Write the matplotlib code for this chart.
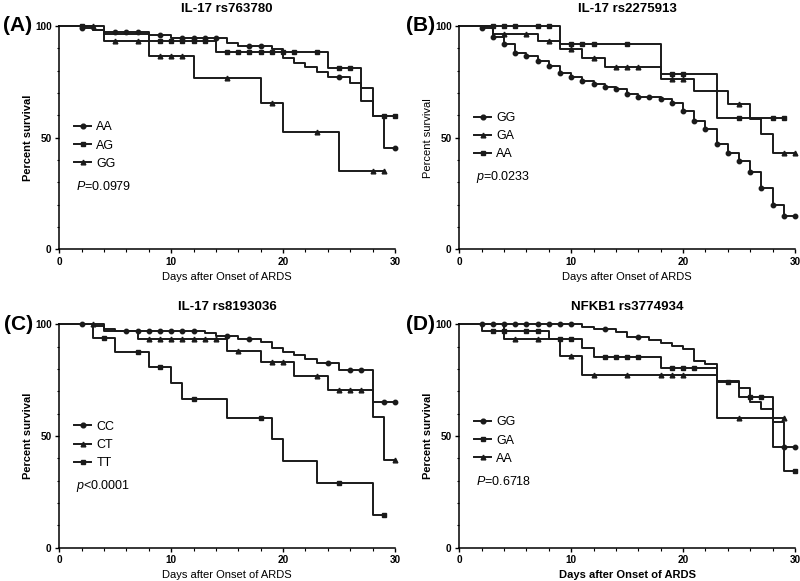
import numpy as np
import matplotlib
matplotlib.use('Agg')
import matplotlib.pyplot as plt
from matplotlib.ticker import MultipleLocator
from matplotlib.lines import Line2D

plt.rcParams['font.family'] = ['Liberation Sans', 'DejaVu Sans']
plt.rcParams['mathtext.fontset'] = 'custom'
plt.rcParams['mathtext.it'] = 'Liberation Sans:italic'
plt.rcParams['mathtext.rm'] = 'Liberation Sans'

# ---- (A) IL-17 rs763780 ----
a_aa_t = [0, 2, 3, 4, 8, 10, 15, 16, 19, 20, 21, 22, 23, 24, 26, 27, 28, 29]
a_aa_s = [100, 99, 98, 97.2, 96, 94.8, 92.2, 91, 89.5, 85.5, 83.6, 81.8, 79.6, 77.3, 74.3, 66.4, 59.8, 45.2]
a_aa_c = [2, 5, 6, 7, 9, 11, 12, 13, 14, 17, 18, 25, 30]
a_ag_t = [0, 3, 4, 8, 14, 24, 27, 28]
a_ag_s = [100, 98, 96.6, 93.3, 88.4, 81, 72.1, 59.8]
a_ag_c = [2, 9, 10, 11, 12, 13, 15, 16, 17, 18, 19, 20, 21, 23, 25, 26, 29, 30]
a_gg_t = [0, 4, 8, 12, 18, 20, 25]
a_gg_s = [100, 93.3, 86.5, 76.8, 65.6, 52.5, 35]
a_gg_c = [3, 5, 7, 9, 10, 11, 15, 19, 23, 28, 29]

# ---- (B) IL-17 rs2275913 ----
b_gg_t = [0, 2, 3, 4, 5, 6, 7, 8, 9, 10, 11, 12, 13, 14, 15, 16, 18, 19, 20,
          21, 22, 23, 24, 25, 26, 27, 28, 29]
b_gg_s = [100, 99, 95, 91.8, 88, 86.6, 84.2, 82, 78.8, 77, 75.5, 73.9, 72.8, 71.9,
          69.5, 68.3, 67.3, 65.4, 62.1, 57.5, 53.9, 47.2, 43, 39.7, 34.8, 27.3, 19.8, 14.9]
b_gg_c = [2, 3, 4, 5, 6, 7, 8, 9, 10, 11, 12, 13, 14, 15, 16, 17, 18, 19, 20,
          21, 22, 23, 24, 25, 26, 27, 28, 29, 30]
b_ga_t = [0, 3, 7, 9, 11, 13, 18, 21, 24, 26, 27, 28]
b_ga_s = [100, 96.4, 93.3, 89.6, 85.5, 81.8, 76.3, 70.9, 65, 58.5, 51.8, 43.2]
b_ga_c = [4, 6, 8, 10, 12, 14, 15, 16, 19, 20, 25, 29, 30]
b_aa_t = [0, 9, 18, 23]
b_aa_s = [100, 92, 78.5, 58.7]
b_aa_c = [3, 4, 5, 7, 8, 10, 11, 12, 15, 19, 20, 25, 28, 29]

# ---- (C) IL-17 rs8193036 ----
c_cc_t = [0, 3, 4, 5, 13, 14, 16, 18, 19, 20, 21, 22, 23, 25, 28]
c_cc_s = [100, 99.3, 97.8, 97, 96, 94.9, 93.5, 92.3, 89.3, 87.8, 86.3, 84.5, 82.6, 79.6, 65.1]
c_cc_c = [2, 6, 7, 8, 9, 10, 11, 12, 15, 17, 24, 26, 27, 29, 30]
c_ct_t = [0, 4, 7, 15, 18, 21, 24, 28, 29]
c_ct_s = [100, 97, 93.3, 88.2, 83, 77, 70.6, 58.7, 39.3]
c_ct_c = [3, 8, 9, 10, 11, 12, 13, 14, 16, 19, 20, 23, 25, 26, 27, 30]
c_tt_t = [0, 3, 5, 8, 10, 11, 15, 19, 20, 23, 28]
c_tt_s = [100, 93.8, 87.8, 81, 73.9, 66.4, 58.2, 48.5, 38.8, 29.1, 14.6]
c_tt_c = [4, 7, 9, 12, 18, 25, 29]

# ---- (D) NFKB1 rs3774934 ----
d_gg_t = [0, 11, 12, 14, 15, 17, 18, 19, 20, 21, 22, 23, 25, 26, 27, 28]
d_gg_s = [100, 98.7, 97.8, 96.4, 94.2, 93, 91.5, 90.3, 88.8, 83.7, 82.1, 74.5, 71.4, 65.3, 61.9, 45.2]
d_gg_c = [2, 3, 4, 5, 6, 7, 8, 9, 10, 13, 16, 29, 30]
d_ga_t = [0, 2, 8, 11, 12, 18, 23, 25, 28, 29]
d_ga_s = [100, 97, 93.3, 89.4, 85.5, 80.3, 74.3, 67.5, 56.4, 34.5]
d_ga_c = [3, 4, 6, 7, 9, 10, 13, 14, 15, 16, 19, 20, 21, 24, 26, 27, 30]
d_aa_t = [0, 4, 9, 11, 23]
d_aa_s = [100, 93.5, 85.6, 77.2, 57.9]
d_aa_c = [5, 7, 10, 12, 15, 18, 19, 20, 25, 29]

INK = '#1a1a1a'


def km(ax, t, s, cens, marker, ms):
    t = np.asarray(t, float)
    s = np.asarray(s, float)
    end = max(t.max(), max(cens))
    ax.step(np.append(t, end), np.append(s, s[-1]), where='post',
            color=INK, lw=1.4, clip_on=False)
    idx = np.searchsorted(t, cens, side='right') - 1
    ax.plot(cens, s[idx], ls='none', marker=marker, ms=ms, color=INK,
            clip_on=False)


def style(ax, title, ylab_bold, xlab_bold):
    ax.set_xlim(0, 30)
    ax.set_ylim(0, 100)
    ax.spines['top'].set_visible(False)
    ax.spines['right'].set_visible(False)
    for sp in ('left', 'bottom'):
        ax.spines[sp].set_linewidth(1.1)
    ax.set_xticks([0, 10, 20, 30])
    ax.set_yticks([0, 50, 100])
    ax.xaxis.set_minor_locator(MultipleLocator(2))
    ax.yaxis.set_minor_locator(MultipleLocator(10))
    ax.tick_params(which='major', length=3, width=1, pad=2.5, labelsize=7.2)
    ax.tick_params(which='minor', length=1.8, width=0.8)
    for lab in ax.get_xticklabels() + ax.get_yticklabels():
        lab.set_fontweight('bold')
    ax.set_title(title, fontsize=9.5, fontweight='bold', pad=10)
    ax.set_ylabel('Percent survival', fontsize=8,
                  fontweight='bold' if ylab_bold else 'normal', labelpad=1.5)
    ax.set_xlabel('Days after Onset of ARDS', fontsize=8,
                  fontweight='bold' if xlab_bold else 'normal', labelpad=3.5)


def legend(ax, labels, markers, ptext, top):
    handles = [Line2D([], [], color=INK, lw=1.4, marker=m, ms=3.4) for m in markers]
    ax.legend(handles, labels, loc='upper left', bbox_to_anchor=(0.045, top),
              frameon=False, fontsize=9, handlelength=1.3, handletextpad=0.45,
              labelspacing=0.5, borderpad=0, borderaxespad=0)
    ax.text(0.05, top - 0.29, ptext, transform=ax.transAxes, fontsize=9,
            va='center', ha='left')


fig = plt.figure(figsize=(8, 5.81), dpi=100)
axA = fig.add_axes([0.0741, 0.5709, 0.4196, 0.3843])
axB = fig.add_axes([0.5741, 0.5709, 0.4196, 0.3843])
axC = fig.add_axes([0.0741, 0.0573, 0.4196, 0.3845])
axD = fig.add_axes([0.5741, 0.0573, 0.4196, 0.3845])

# A
km(axA, a_gg_t, a_gg_s, a_gg_c, '^', 3.4)
km(axA, a_ag_t, a_ag_s, a_ag_c, 's', 3.4)
km(axA, a_aa_t, a_aa_s, a_aa_c, 'o', 3.2)
style(axA, 'IL-17 rs763780', True, False)
legend(axA, ['AA', 'AG', 'GG'], ['o', 's', '^'], r'$\mathit{P}$=0.0979', 0.573)

# B
km(axB, b_aa_t, b_aa_s, b_aa_c, 's', 3.4)
km(axB, b_ga_t, b_ga_s, b_ga_c, '^', 3.4)
km(axB, b_gg_t, b_gg_s, b_gg_c, 'o', 3.2)
style(axB, 'IL-17 rs2275913', False, False)
legend(axB, ['GG', 'GA', 'AA'], ['o', '^', 's'], r'$\mathit{p}$=0.0233', 0.615)

# C
km(axC, c_tt_t, c_tt_s, c_tt_c, 's', 3.4)
km(axC, c_ct_t, c_ct_s, c_ct_c, '^', 3.4)
km(axC, c_cc_t, c_cc_s, c_cc_c, 'o', 3.2)
style(axC, 'IL-17 rs8193036', True, False)
legend(axC, ['CC', 'CT', 'TT'], ['o', '^', 's'], r'$\mathit{p}$<0.0001', 0.568)

# D
km(axD, d_aa_t, d_aa_s, d_aa_c, '^', 3.4)
km(axD, d_ga_t, d_ga_s, d_ga_c, 's', 3.4)
km(axD, d_gg_t, d_gg_s, d_gg_c, 'o', 3.2)
style(axD, 'NFKB1 rs3774934', True, True)
legend(axD, ['GG', 'GA', 'AA'], ['o', 's', '^'], r'$\mathit{P}$=0.6718', 0.588)

for x, y, lab in [(0.004, 0.956, '(A)'), (0.508, 0.956, '(B)'),
                  (0.005, 0.441, '(C)'), (0.507, 0.441, '(D)')]:
    fig.text(x, y, lab, fontsize=15, fontweight='bold', va='center', ha='left')

fig.savefig('out.png', dpi=100)
